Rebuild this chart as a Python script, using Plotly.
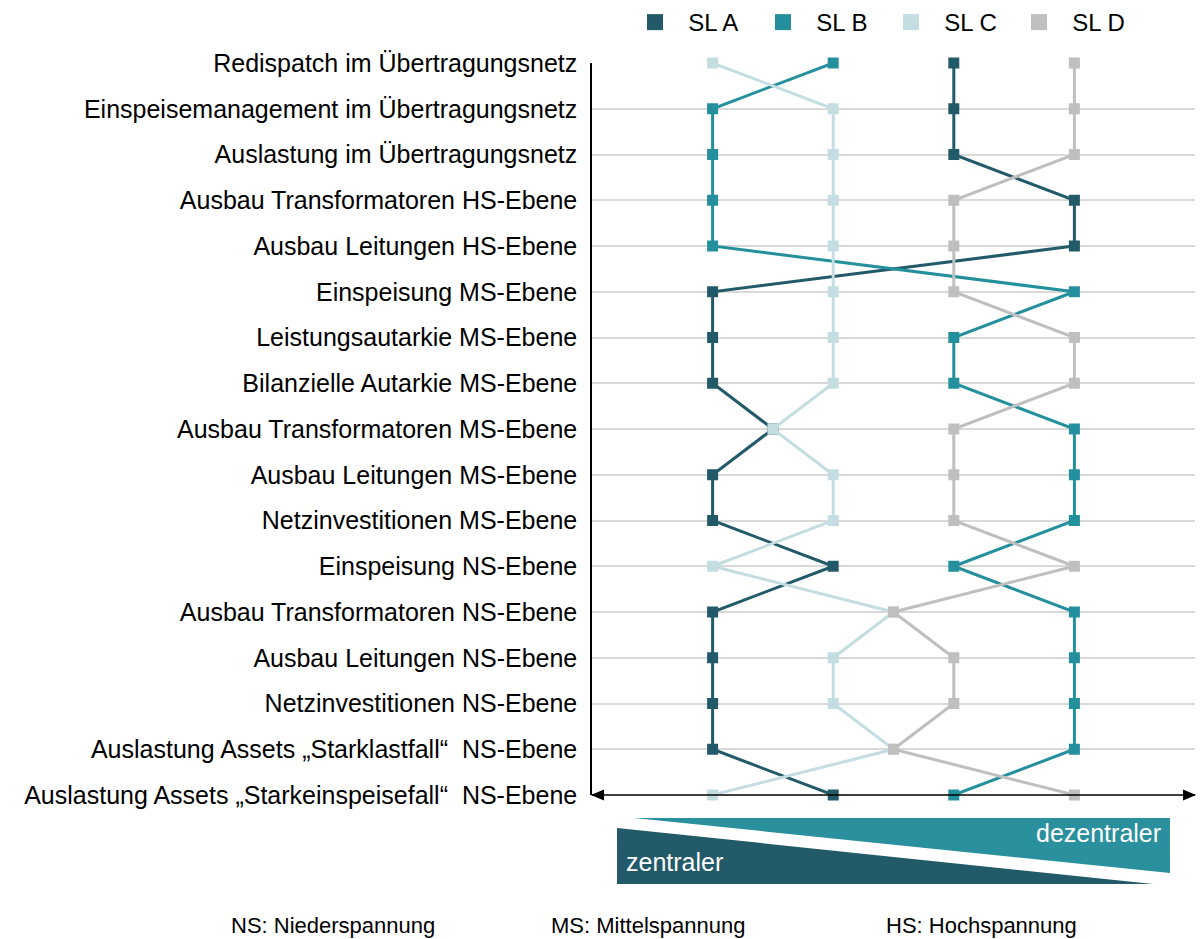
import plotly.graph_objects as go

categories = [
    "Redispatch im Übertragungsnetz",
    "Einspeisemanagement im Übertragungsnetz",
    "Auslastung im Übertragungsnetz",
    "Ausbau Transformatoren HS-Ebene",
    "Ausbau Leitungen HS-Ebene",
    "Einspeisung MS-Ebene",
    "Leistungsautarkie MS-Ebene",
    "Bilanzielle Autarkie MS-Ebene",
    "Ausbau Transformatoren MS-Ebene",
    "Ausbau Leitungen MS-Ebene",
    "Netzinvestitionen MS-Ebene",
    "Einspeisung NS-Ebene",
    "Ausbau Transformatoren NS-Ebene",
    "Ausbau Leitungen NS-Ebene",
    "Netzinvestitionen NS-Ebene",
    "Auslastung Assets „Starklastfall“  NS-Ebene",
    "Auslastung Assets „Starkeinspeisefall“  NS-Ebene",
]

# rank per category (1 = zentraler ... 4 = dezentraler)
sl_a = [3, 3, 3, 4, 4, 1, 1, 1, 1.5, 1, 1, 2, 1, 1, 1, 1, 2]
sl_b = [2, 1, 1, 1, 1, 4, 3, 3, 4, 4, 4, 3, 4, 4, 4, 4, 3]
sl_c = [1, 2, 2, 2, 2, 2, 2, 2, 1.5, 2, 2, 1, 2.5, 2, 2, 2.5, 1]
sl_d = [4, 4, 4, 3, 3, 3, 4, 4, 3, 3, 3, 4, 2.5, 3, 3, 2.5, 4]

series = [
    ("SL A", sl_a, "#235A69"),
    ("SL B", sl_b, "#24909E"),
    ("SL C", sl_c, "#C3DDE1"),
    ("SL D", sl_d, "#BFBFBF"),
]

FONT = "Liberation Sans, Arial, sans-serif"

fig = go.Figure()
for name, vals, col in series:
    fig.add_trace(go.Scatter(
        x=vals, y=categories, mode="lines+markers", name=name,
        line=dict(color=col, width=3),
        marker=dict(symbol="square", size=11, color=col),
        showlegend=False, cliponaxis=False,
    ))
    # legend-only marker entry
    fig.add_trace(go.Scatter(
        x=[None], y=[None], mode="markers", name="  " + name,
        marker=dict(symbol="square", size=20, color=col),
    ))

# plot area in pixels: x 592..1195, y 63..795
L, R, T, B = 592, 1195, 63, 795


def px(x, y):
    return (x - L) / (R - L), (B - y) / (B - T)


def poly(pts, col):
    p = [px(*q) for q in pts]
    path = "M " + " L ".join(f"{a:.4f},{b:.4f}" for a, b in p) + " Z"
    fig.add_shape(type="path", path=path, xref="paper", yref="paper",
                  fillcolor=col, line=dict(width=0), layer="above")


poly([(634, 818), (1170, 818), (1170, 873)], "#2B909D")
poly([(617, 828), (617, 884), (1153, 884)], "#235A69")

# x axis with arrowheads on both ends
fig.add_shape(type="line", xref="paper", yref="paper", x0=0, x1=1, y0=0, y1=0,
              line=dict(color="black", width=1.5), layer="above")
poly([(1196, 795), (1183, 789.5), (1183, 800.5)], "black")
poly([(591, 795), (604, 789.5), (604, 800.5)], "black")

ax, ay = px(1163, 833)
fig.add_annotation(x=ax, y=ay, xref="paper", yref="paper", text="dezentraler",
                   showarrow=False, xanchor="right", yanchor="middle",
                   font=dict(family=FONT, size=25, color="white"))
ax, ay = px(624, 862)
fig.add_annotation(x=ax, y=ay, xref="paper", yref="paper", text="zentraler",
                   showarrow=False, xanchor="left", yanchor="middle",
                   font=dict(family=FONT, size=25, color="white"))

for txt, cx in [("NS: Niederspannung", 333), ("MS: Mittelspannung", 648),
                ("HS: Hochspannung", 981)]:
    ax, ay = px(cx, 926)
    fig.add_annotation(x=ax, y=ay, xref="paper", yref="paper", text=txt,
                       showarrow=False, xanchor="center", yanchor="middle",
                       font=dict(family=FONT, size=22, color="black"))

fig.update_layout(
    width=1200, height=939,
    margin=dict(l=L, r=1200 - R, t=T, b=939 - B, autoexpand=False),
    plot_bgcolor="white", paper_bgcolor="white",
    font=dict(family=FONT, size=25, color="black"),
    showlegend=True,
    legend=dict(orientation="h", xref="container", yref="container",
                x=635 / 1200, xanchor="left", y=1, yanchor="top",
                bgcolor="rgba(0,0,0,0)",
                font=dict(size=24), entrywidth=83, entrywidthmode="pixels",
                itemsizing="trace"),
    xaxis=dict(range=[0, 5], showgrid=False, zeroline=False, showticklabels=False,
               showline=False, fixedrange=True, automargin=False),
    yaxis=dict(type="category", categoryarray=categories, range=[16, 0],
               showgrid=True, gridcolor="#D9D9D9", gridwidth=1.5,
               showline=True, linecolor="black", linewidth=1.5,
               ticks="", ticklabelstandoff=8, zeroline=False, automargin=False),
)

fig.write_html("out.html", config={"displayModeBar": False},
               post_script="document.body.style.margin='0';")
